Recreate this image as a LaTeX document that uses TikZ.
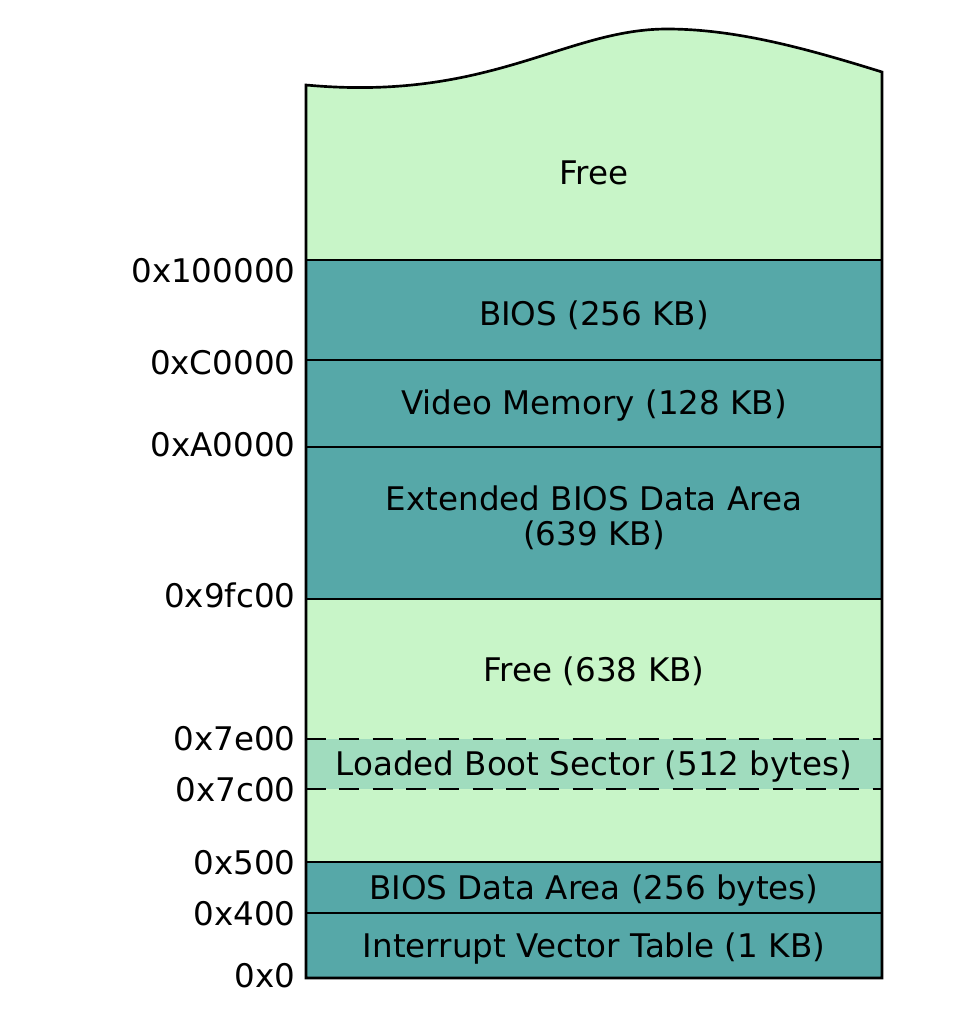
\documentclass[tikz,border=0pt]{standalone}
\usepackage{fontspec}
\setmainfont{DejaVu Sans}

\definecolor{freegreen}{RGB}{200,245,200}
\definecolor{biosteal}{RGB}{86,168,168}
\definecolor{bootgreen}{RGB}{160,220,190}

\tikzset{every picture/.style={line width=0.75pt},
	memtext/.style={anchor=base,inner sep=0.75pt,font=\fontsize{24.4}{26.5}\selectfont},
	addrtext/.style={anchor=base east,inner sep=0.75pt,font=\fontsize{24.4}{26.5}\selectfont},
	bound/.style={line width=2pt},
	bootbound/.style={line width=2pt,dash pattern={on 15pt off 10pt}}}

\begin{document}
\begin{tikzpicture}[x=0.75pt,y=0.75pt,yscale=-1,xscale=1]
		\useasboundingbox (0,0) rectangle (956,1014);

		%Shape: Free area (whole column, wavy top)
		\fill [freegreen] (306,978) -- (306,85) .. controls (490,102) and (565,29) .. (667,29) .. controls (735,29) and (805,48) .. (882,72) -- (882,978) -- cycle ;
		%Shape: Rectangle [BIOS, Video, EBDA]
		\fill [biosteal] (306,260) rectangle (882,599) ;
		%Shape: Rectangle [BDA, IVT]
		\fill [biosteal] (306,862) rectangle (882,978) ;
		%Shape: Rectangle [boot sector]
		\fill [bootgreen] (306,739) rectangle (882,789) ;

		%Straight Lines [0x100000]
		\draw [bound]  (306,260) -- (882,260) ;
		%Straight Lines [0xC0000]
		\draw [bound]  (306,360) -- (882,360) ;
		%Straight Lines [0xA0000]
		\draw [bound]  (306,447) -- (882,447) ;
		%Straight Lines [0x9fc00]
		\draw [bound]  (306,599) -- (882,599) ;
		%Straight Lines [0x7e00]
		\draw [bootbound]  (306,739) -- (882,739) ;
		%Straight Lines [0x7c00]
		\draw [bootbound]  (306,789) -- (882,789) ;
		%Straight Lines [0x500]
		\draw [bound]  (306,862) -- (882,862) ;
		%Straight Lines [0x400]
		\draw [bound]  (306,913) -- (882,913) ;

		%Shape: Outline
		\draw [bound]  (306,978) -- (306,85) .. controls (490,102) and (565,29) .. (667,29) .. controls (735,29) and (805,48) .. (882,72) -- (882,978) -- cycle ;

		% Text Node
		\node [memtext] (free) at (594,184) {Free};
		% Text Node
		\node [memtext] (bios) at (594,325) {BIOS (256 KB)};
		% Text Node
		\node [memtext] (video) at (594,414) {Video Memory (128 KB)};
		% Text Node
		\node [memtext,align=center,anchor=center] (ebda) at (594,518) {Extended BIOS Data Area\\(639 KB)};
		% Text Node
		\node [memtext] (freelow) at (594,681) {Free (638 KB)};
		% Text Node
		\node [memtext] (boot) at (594,775) {Loaded Boot Sector (512 bytes)};
		% Text Node
		\node [memtext] (bda) at (594,899) {BIOS Data Area (256 bytes)};
		% Text Node
		\node [memtext] (ivt) at (594,957) {Interrupt Vector Table (1 KB)};

		% Text Node
		\node [addrtext] (a100000) at (297,282) {0x100000};
		% Text Node
		\node [addrtext] (aC0000) at (297,374) {0xC0000};
		% Text Node
		\node [addrtext] (aA0000) at (297,456) {0xA0000};
		% Text Node
		\node [addrtext] (a9fc00) at (297,607) {0x9fc00};
		% Text Node
		\node [addrtext] (a7e00) at (297,750) {0x7e00};
		% Text Node
		\node [addrtext] (a7c00) at (297,801) {0x7c00};
		% Text Node
		\node [addrtext] (a500) at (297,874) {0x500};
		% Text Node
		\node [addrtext] (a400) at (297,925) {0x400};
		% Text Node
		\node [addrtext] (a0) at (297,987) {0x0};
	\end{tikzpicture}
\end{document}
